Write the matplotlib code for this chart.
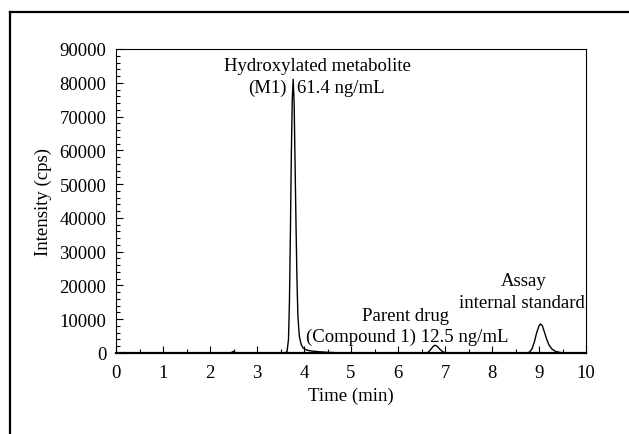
import matplotlib.pyplot as plt
from matplotlib.lines import Line2D
from matplotlib.ticker import MultipleLocator

plt.rcParams["font.family"] = ["Liberation Serif", "DejaVu Serif"]
plt.rcParams["font.size"] = 13.5

# chromatogram trace (time in min, intensity in cps)
time_min = [0.0, 2.40, 2.46, 2.50, 2.54, 2.60,
            3.60, 3.64, 3.67, 3.69, 3.71, 3.73, 3.75, 3.77, 3.79, 3.81, 3.83,
            3.85, 3.87, 3.90, 3.94, 3.98, 4.05, 4.15, 4.30, 4.50, 4.70, 4.90,
            6.60, 6.65, 6.70, 6.75, 6.79, 6.84, 6.90, 6.95, 7.00, 7.05,
            8.75, 8.80, 8.85, 8.90, 8.95, 9.00, 9.03, 9.07, 9.12, 9.17, 9.22,
            9.28, 9.35, 9.45, 9.55, 10.0]
intensity = [0, 0, 150, 500, 150, 0,
             0, 500, 4000, 15000, 35000, 58000, 75000, 81000, 74000, 56000, 38000,
             22000, 11000, 5000, 2500, 1500, 900, 600, 400, 200, 80, 0,
             0, 300, 1100, 2000, 2300, 1900, 1000, 400, 100, 0,
             0, 300, 1200, 3200, 6000, 8000, 8600, 8100, 6000, 3800, 2200,
             1100, 500, 150, 0, 0]

fig = plt.figure(figsize=(6.29, 4.35), dpi=100)
ax = fig.add_axes([116 / 629, 1 - 354 / 435, 470 / 629, 304 / 435])

ax.plot(time_min, intensity, color="black", lw=1.0)

ax.set_xlim(0, 10)
ax.set_ylim(0, 90000)
ax.xaxis.set_major_locator(MultipleLocator(1))
ax.xaxis.set_minor_locator(MultipleLocator(0.5))
ax.yaxis.set_major_locator(MultipleLocator(10000))
ax.yaxis.set_minor_locator(MultipleLocator(2000))
ax.tick_params(which="both", direction="in", top=False, right=False, width=0.8)
ax.tick_params(which="major", length=5)
ax.tick_params(which="minor", length=3)
ax.tick_params(axis="x", pad=8)
ax.tick_params(axis="y", pad=7)
for s in ax.spines.values():
    s.set_linewidth(0.8)
ax.spines["bottom"].set_linewidth(1.6)

ax.set_xlabel("Time (min)", labelpad=4)
ax.set_ylabel("Intensity (cps)", labelpad=5)

# peak labels
ax.text(4.28, 83800, "Hydroxylated metabolite", ha="center", va="baseline")
ax.text(3.64, 77300, "(M1)", ha="right", va="baseline")
ax.text(3.85, 77300, "61.4 ng/mL", ha="left", va="baseline")
ax.text(6.17, 9900, "Parent drug", ha="center", va="baseline")
ax.text(6.19, 3500, "(Compound 1) 12.5 ng/mL", ha="center", va="baseline")
ax.text(8.68, 20000, "Assay", ha="center", va="baseline")
ax.text(8.64, 13600, "internal standard", ha="center", va="baseline")

# outer frame (left and top edges show in the picture)
fig.add_artist(Line2D([10 / 629, 10 / 629], [0, 1 - 13 / 435], color="black", lw=1.6))
fig.add_artist(Line2D([10 / 629, 1], [1 - 13 / 435, 1 - 13 / 435], color="black", lw=1.6))

fig.savefig("out.png", dpi=100)
